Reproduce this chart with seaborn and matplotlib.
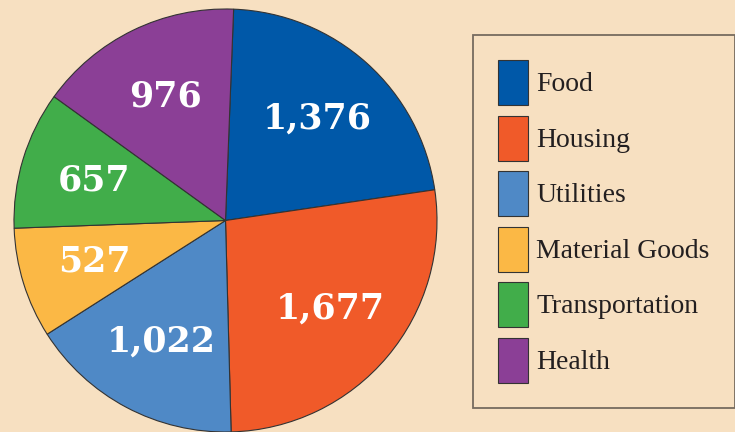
import matplotlib
matplotlib.use("Agg")
import matplotlib.pyplot as plt
import seaborn as sns

# dados do gráfico
categorias = ['Food', 'Housing', 'Utilities', 'Material Goods', 'Transportation', 'Health']
valores = [1376, 1677, 1022, 527, 657, 976]
cores = ['#0058a8', '#f05a29', '#4f89c6', '#fbb845', '#41ad4a', '#8b3f96']

fundo = '#f7e0c1'
sns.set_theme(style="white", rc={'figure.facecolor': fundo, 'axes.facecolor': fundo})
paleta = sns.color_palette(cores)

fig = plt.figure(figsize=(7.35, 4.32), dpi=100)
ax = fig.add_axes([14 / 735, 0 / 432, 423 / 735, 423 / 432])

total = sum(valores)
fatias, _, textos = ax.pie(
    valores,
    colors=paleta,
    startangle=87.8,
    counterclock=False,
    autopct=lambda p: f"{round(p * total / 100):,}",
    pctdistance=0.65,
    wedgeprops={'edgecolor': '#333333', 'linewidth': 0.8},
    textprops={'color': 'white', 'fontsize': 25, 'fontweight': 'bold',
               'family': ['DejaVu Serif'], 'ha': 'center', 'va': 'center'},
)
ax.set_xlim(-1.0, 1.0)
ax.set_ylim(-1.0, 1.0)
ax.set_aspect('equal')
ax.axis('off')
for w in fatias:
    w.set_clip_on(False)

leg = fig.legend(
    fatias, categorias,
    loc='upper left',
    bbox_to_anchor=(473 / 735, 1 - 35 / 432),
    prop={'family': 'Liberation Serif', 'size': 20},
    handlelength=1.08,
    handleheight=2.115,
    labelspacing=0.38,
    handletextpad=0.3,
    borderpad=0.9,
    borderaxespad=0,
    frameon=True,
    fancybox=False,
    facecolor=fundo,
    edgecolor='#766b5f',
    framealpha=1,
)
leg.get_frame().set_linewidth(1.3)
for t in leg.get_texts():
    t.set_color('#231f20')

fig.savefig('out.png', dpi=100, facecolor=fundo)
